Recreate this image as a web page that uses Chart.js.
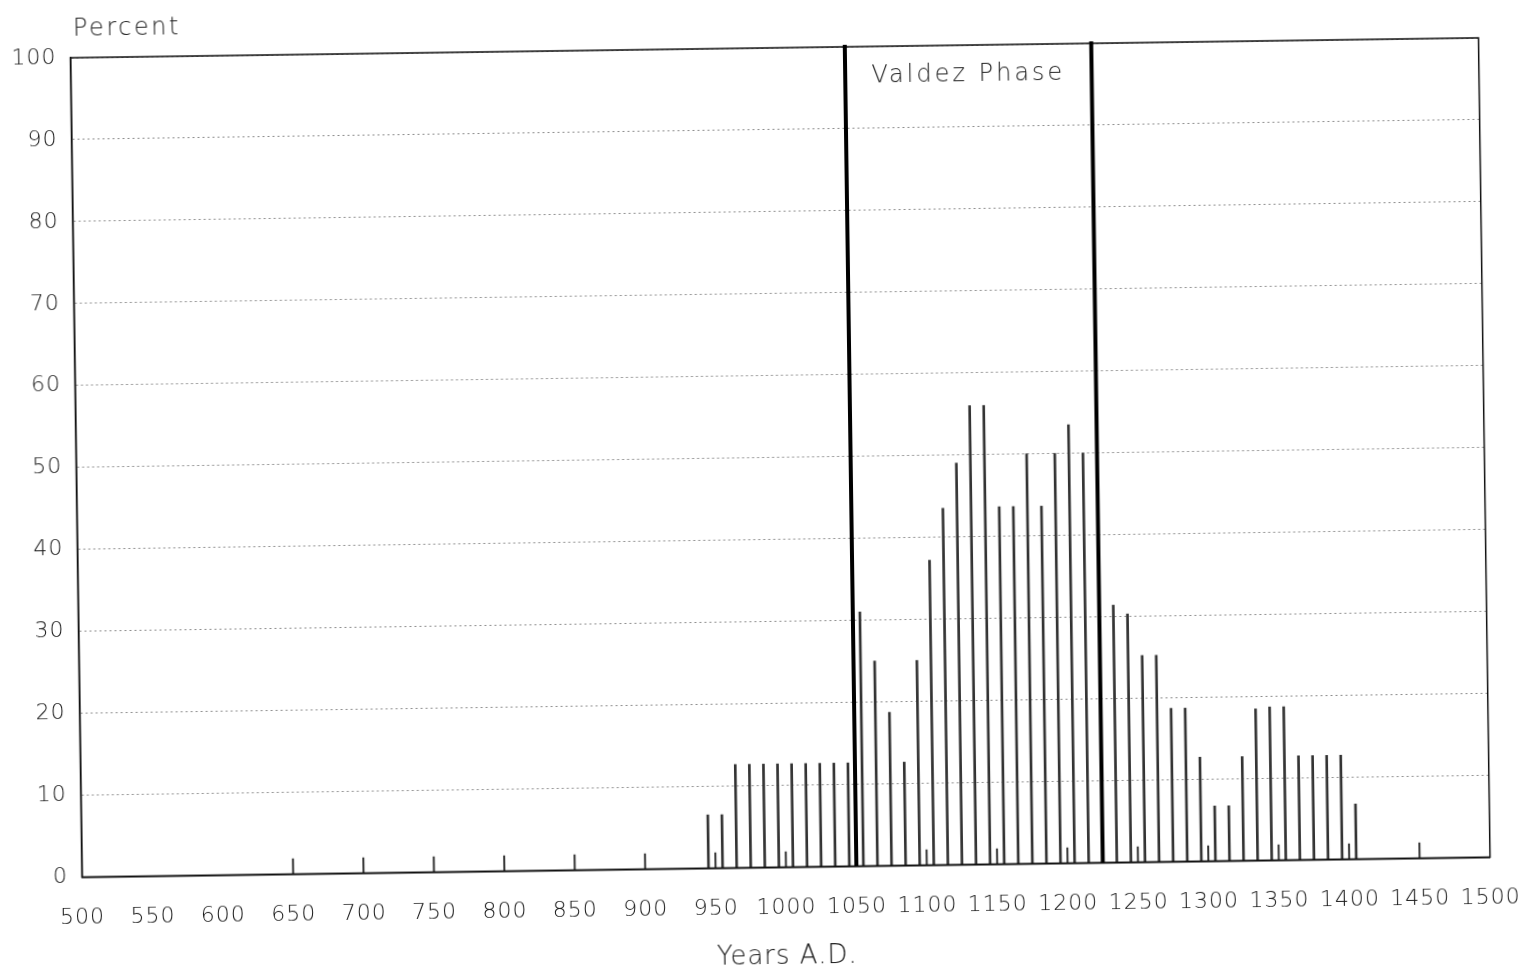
<!DOCTYPE html>
<html>
<head>
<meta charset="utf-8">
<title>Valdez Phase</title>
<script src="https://cdn.jsdelivr.net/npm/chart.js@4.4.1/dist/chart.umd.min.js"></script>
<style>
	html, body { margin: 0; padding: 0; background: #fff; overflow: hidden; }
	#percentChart { display: block; transform: rotate(-0.81deg); transform-origin: 50% 50%; }
</style>
</head>
<body>
<canvas id="percentChart" width="1530" height="973"></canvas>
<script>
	// decade midpoints (A.D.) and percent for each decade
	const years = [
		945, 955, 965, 975, 985, 995, 1005, 1015, 1025, 1035,
		1045, 1055, 1065, 1075, 1085, 1095, 1105, 1115, 1125, 1135,
		1145, 1155, 1165, 1175, 1185, 1195, 1205, 1215, 1225, 1235,
		1245, 1255, 1265, 1275, 1285, 1295, 1305, 1315, 1325, 1335,
		1345, 1355, 1365, 1375, 1385, 1395, 1405
	];
	const percent = [
		6.5, 6.5, 12.6, 12.6, 12.6, 12.6, 12.6, 12.6, 12.6, 12.6,
		12.6, 31, 25, 18.7, 12.6, 25, 37.2, 43.5, 49, 56,
		56, 43.6, 43.6, 50, 43.6, 50, 53.5, 50, 40, 31.4,
		30.3, 25.2, 25.2, 18.7, 18.7, 12.7, 6.7, 6.7, 12.7, 18.5,
		18.7, 18.7, 12.7, 12.7, 12.7, 12.7, 6.7
	];

	const phaseStart = 1050;
	const phaseEnd = 1225;
	const phaseName = 'Valdez Phase';
	const firstMarkedYear = 650;
	const markHeight = 1.9;

	const fontFamily = '"DejaVu Sans", "Open Sans", sans-serif';

	const framePlugin = {
		id: 'frame',
		beforeUpdate(chart) {
			chart.ctx.letterSpacing = '1px';
		},
		beforeDraw(chart) {
			chart.ctx.letterSpacing = '1px';
		},
		afterDraw(chart) {
			const { ctx, chartArea, scales } = chart;
			const x = scales.x;
			const y = scales.y;
			ctx.save();

			// short year marks standing up from the base line
			ctx.strokeStyle = '#333';
			ctx.lineWidth = 2;
			x.ticks.forEach(t => {
				if (t.value < firstMarkedYear || t.value >= x.max) return;
				const px = x.getPixelForValue(t.value);
				ctx.beginPath();
				ctx.moveTo(px, y.getPixelForValue(0));
				ctx.lineTo(px, y.getPixelForValue(markHeight));
				ctx.stroke();
			});

			// box round the plot
			ctx.strokeStyle = '#111';
			ctx.lineWidth = 1.5;
			ctx.strokeRect(chartArea.left, chartArea.top, chartArea.width, chartArea.height);

			// phase boundaries
			ctx.strokeStyle = '#000';
			ctx.lineWidth = 4;
			[phaseStart, phaseEnd].forEach(year => {
				const px = x.getPixelForValue(year);
				ctx.beginPath();
				ctx.moveTo(px, chartArea.top - 2);
				ctx.lineTo(px, chartArea.bottom);
				ctx.stroke();
			});

			ctx.fillStyle = '#222';
			ctx.font = '200 24px ' + fontFamily;
			ctx.textBaseline = 'middle';
			ctx.textAlign = 'center';
			ctx.letterSpacing = '3px';
			const mid = (x.getPixelForValue(phaseStart) + x.getPixelForValue(phaseEnd)) / 2;
			ctx.fillText(phaseName, mid, chartArea.top + 30);

			ctx.textAlign = 'left';
			ctx.letterSpacing = '2.5px';
			ctx.fillText('Percent', chartArea.left + 3, chartArea.top - 28);
			ctx.restore();
		}
	};

	window.addEventListener('DOMContentLoaded', () => {
		Chart.defaults.font.family = fontFamily;
		Chart.defaults.font.weight = 200;
		Chart.defaults.color = '#1a1a1a';

		const percentChart = document.getElementById('percentChart');

		new Chart(percentChart, {
			type: 'bar',
			data: {
				datasets: [{
					label: 'Percent',
					data: years.map((year, i) => ({ x: year, y: percent[i] })),
					backgroundColor: '#333',
					barThickness: 2
				}]
			},
			options: {
				responsive: false,
				animation: false,
				layout: {
					padding: { left: 0, right: 45.3, top: 48, bottom: 0 }
				},
				plugins: {
					legend: { display: false },
					tooltip: { enabled: false }
				},
				scales: {
					x: {
						type: 'linear',
						min: 500,
						max: 1500,
						offset: false,
						grid: { display: false, drawTicks: false, offset: false },
						border: { display: true, color: '#111', width: 1.5 },
						ticks: {
							stepSize: 50,
							padding: 28,
							autoSkip: false,
							maxRotation: 0,
							font: { size: 22 },
							callback: value => String(value)
						},
						title: {
							display: true,
							text: 'Years A.D.',
							font: { size: 26 },
							padding: { top: 0, bottom: 0 }
						},
						afterFit(scale) {
							// the label padding would otherwise widen the side margins
							scale.height = 105.7;
							scale.paddingLeft = 0;
							scale.paddingRight = 0;
						}
					},
					y: {
						min: 0,
						max: 100,
						ticks: {
							stepSize: 10,
							padding: 14,
							font: { size: 22 }
						},
						grid: { color: 'rgba(0,0,0,0.45)', lineWidth: 1, drawTicks: false },
						border: { display: true, color: '#111', width: 1.5, dash: [2, 3] },
						afterFit(scale) {
							scale.width = 76.5;
						}
					}
				}
			},
			plugins: [framePlugin]
		});
	});
</script>
</body>
</html>
